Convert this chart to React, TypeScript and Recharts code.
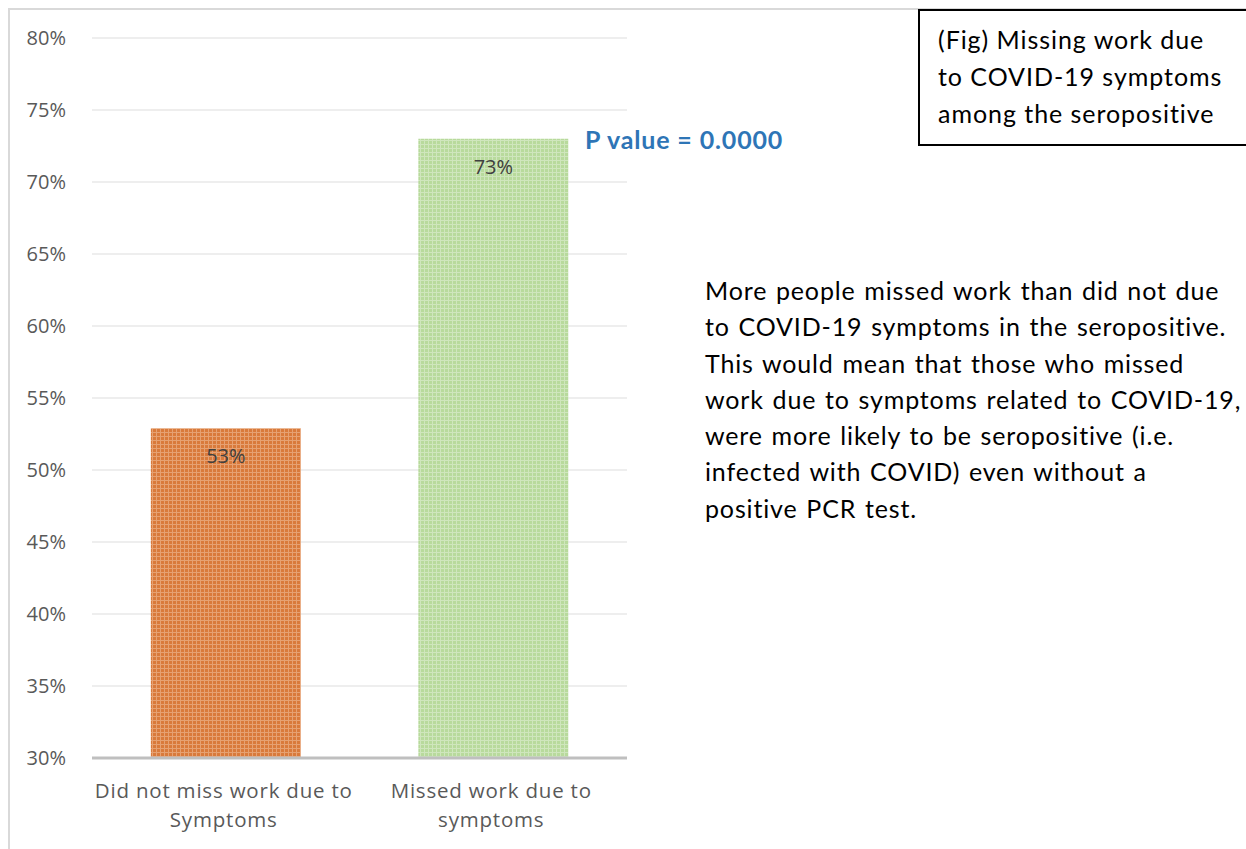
import { BarChart, Bar, XAxis, YAxis, CartesianGrid, LabelList } from 'recharts';

// chart values
const categories = ['Did not miss work due to|Symptoms', 'Missed work due to|symptoms'];
const shares = [52.9, 73.0];
const yTicks = [30, 35, 40, 45, 50, 55, 60, 65, 70, 75, 80];
const barFills = ['url(#orangeGrid)', 'url(#greenGrid)'];

const pValueText = 'P value = 0.0000';
const figTitleLines = ['(Fig) Missing work due', 'to COVID-19 symptoms', 'among the seropositive'];
const noteLines = [
    'More people missed work than did not due',
    'to COVID-19 symptoms in the seropositive.',
    'This would mean that those who missed',
    'work due to symptoms related to COVID-19,',
    'were more likely to be seropositive (i.e.',
    'infected with COVID) even without a',
    'positive PCR test.',
];

const data = categories.map((name, i) => ({ name, value: shares[i], fill: barFills[i] }));

const tickFont = '"Open Sans", "DejaVu Sans", sans-serif';
const textFont = 'Lato, "Noto Sans", sans-serif';

function CategoryTick({ x, y, payload }: any) {
    const lines = String(payload.value).split('|');
    return (
        <g>
            {lines.map((line, i) => (
                <text
                    key={i}
                    x={x - 2}
                    y={y + 40 + i * 29}
                    textAnchor="middle"
                    fill="#595959"
                    fontSize={20.5}
                    fontFamily={tickFont}
                    letterSpacing={0.8}
                >
                    {line}
                </text>
            ))}
        </g>
    );
}

export default function App() {
    return (
        <div
            style={{
                position: 'fixed',
                left: 8,
                top: 8,
                width: 1238,
                height: 841,
                overflow: 'hidden',
                background: '#fff',
            }}
        >
            <svg width={0} height={0} style={{ position: 'absolute' }}>
                <defs>
                    <pattern id="orangeGrid" width={4} height={4} patternUnits="userSpaceOnUse">
                        <rect width={4} height={4} fill="#D97A3B" />
                        <rect width={4} height={1} fill="#E6A172" />
                        <rect width={1} height={4} fill="#E6A172" />
                    </pattern>
                    <pattern id="greenGrid" width={4} height={4} patternUnits="userSpaceOnUse">
                        <rect width={4} height={4} fill="#B8DA9C" />
                        <rect width={4} height={1} fill="#CFE6BD" />
                        <rect width={1} height={4} fill="#CFE6BD" />
                    </pattern>
                </defs>
            </svg>

            {/* chart frame, only the top and left edges are in view */}
            <div
                style={{
                    position: 'absolute',
                    left: 0,
                    top: 0,
                    width: 2000,
                    height: 2000,
                    borderTop: '2px solid #D9D9D9',
                    borderLeft: '2px solid #D9D9D9',
                }}
            />

            <div style={{ position: 'absolute', left: 0, top: 0 }}>
                <BarChart
                    width={640}
                    height={841}
                    data={data}
                    margin={{ top: 30, right: 21, bottom: 0, left: 14 }}
                    barCategoryGap="22%"
                >
                    <CartesianGrid horizontal vertical={false} stroke="#E8E8E8" strokeWidth={1.5} />
                    <XAxis
                        dataKey="name"
                        height={91}
                        tickLine={false}
                        tickSize={0}
                        tickMargin={0}
                        axisLine={{ stroke: '#BFBFBF', strokeWidth: 3 }}
                        tick={<CategoryTick />}
                        interval={0}
                    />
                    <YAxis
                        width={70}
                        domain={[30, 80]}
                        ticks={yTicks}
                        allowDataOverflow
                        axisLine={false}
                        tickLine={false}
                        tickSize={0}
                        tickMargin={26}
                        tickFormatter={(v) => `${v}%`}
                        tick={{ fill: '#595959', fontSize: 20, fontFamily: tickFont }}
                    />
                    <Bar dataKey="value" isAnimationActive={false}>
                        <LabelList
                            dataKey="value"
                            position="insideTop"
                            offset={21}
                            formatter={(v: any) => `${Math.round(Number(v))}%`}
                            fill="#404040"
                            fontSize={20}
                            fontFamily={tickFont}
                        />
                    </Bar>
                </BarChart>
            </div>

            <div
                style={{
                    position: 'absolute',
                    left: 577,
                    top: 116,
                    color: '#2E75B6',
                    fontWeight: 700,
                    fontSize: 25,
                    letterSpacing: 0.85,
                    fontFamily: textFont,
                    whiteSpace: 'nowrap',
                }}
            >
                {pValueText}
            </div>

            <div
                style={{
                    position: 'absolute',
                    left: 910,
                    top: 1,
                    width: 400,
                    height: 137,
                    border: '2px solid #000',
                    boxSizing: 'border-box',
                }}
            >
                <div
                    style={{
                        position: 'absolute',
                        left: 18,
                        top: 10,
                        fontSize: 25,
                        lineHeight: '37px',
                        letterSpacing: 0.95,
                        fontFamily: textFont,
                        color: '#000',
                        whiteSpace: 'nowrap',
                    }}
                >
                    {figTitleLines.map((line, i) => (
                        <div key={i}>{line}</div>
                    ))}
                </div>
            </div>

            <div
                style={{
                    position: 'absolute',
                    left: 697,
                    top: 264,
                    fontSize: 25,
                    lineHeight: '36.3px',
                    letterSpacing: 0.85,
                    wordSpacing: 1.5,
                    fontFamily: textFont,
                    color: '#000',
                    whiteSpace: 'nowrap',
                }}
            >
                {noteLines.map((line, i) => (
                    <div key={i}>{line}</div>
                ))}
            </div>
        </div>
    );
}
